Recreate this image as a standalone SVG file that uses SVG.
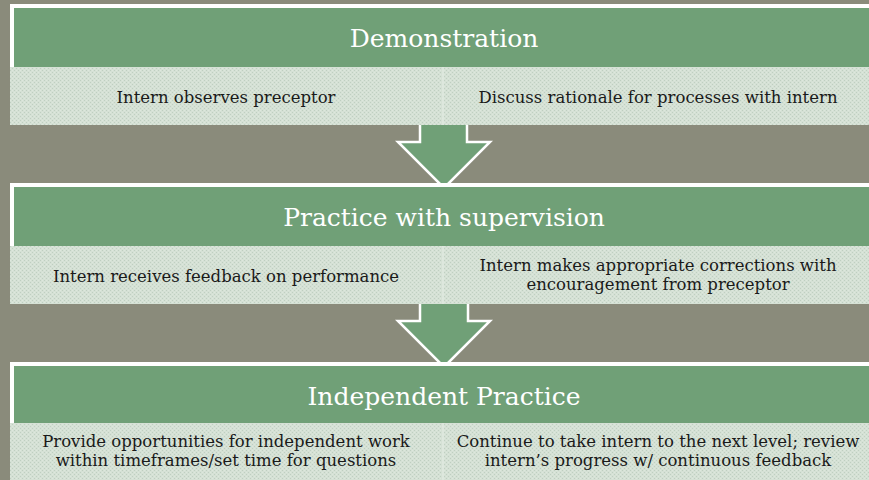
<svg xmlns="http://www.w3.org/2000/svg" width="869" height="480" viewBox="0 0 869 480">
  <defs>
    <!-- fine dotted weave used on the detail bands -->
    <pattern id="weave" width="4" height="4" patternUnits="userSpaceOnUse">
      <rect width="4" height="4" fill="#d5e1d5"/>
      <rect x="0" y="0" width="1" height="1" fill="#bfcfc1"/>
      <rect x="2" y="2" width="1" height="1" fill="#bfcfc1"/>
      <rect x="2" y="0" width="1" height="1" fill="#dde7dd"/>
      <rect x="0" y="2" width="1" height="1" fill="#dde7dd"/>
    </pattern>
  </defs>
  <style>
    .frame { fill: #ffffff; }
    .head { fill: #70a077; }
    .band { fill: url(#weave); }
    .seam { fill: #dde7dd; }
    .title { font-family: "DejaVu Serif", "Liberation Serif", serif; font-size: 25px; fill: #ffffff; text-anchor: middle; }
    .item { font-family: "DejaVu Serif", "Liberation Serif", serif; font-size: 16.5px; fill: #1a1a1a; text-anchor: middle; }
    .flow { fill: #70a077; stroke: #ffffff; stroke-width: 2.5; stroke-linejoin: miter; }
  </style>

  <rect width="869" height="480" fill="#8a8b7b"/>

  <!-- down arrows between stages -->
  <g id="connectors">
    <polygon class="flow" points="420,118 467,118 467,142 490,142 444,188 398,142 420,142"/>
    <polygon class="flow" points="420,297 468,297 468,321 490,321 444,367 398,321 420,321"/>
  </g>

  <g id="demonstration">
    <rect class="frame" x="10" y="4" width="870" height="64"/>
    <rect class="head" x="14" y="8" width="870" height="60"/>
    <text class="title" x="444" y="47">Demonstration</text>
    <rect class="band" x="10" y="67" width="870" height="58"/>
    <rect class="seam" x="442" y="67" width="2" height="58"/>
    <text class="item" x="226" y="103">Intern observes preceptor</text>
    <text class="item" x="658" y="103">Discuss rationale for processes with intern</text>
  </g>

  <g id="practice-with-supervision">
    <rect class="frame" x="10" y="183" width="870" height="64"/>
    <rect class="head" x="14" y="187" width="870" height="60"/>
    <text class="title" x="444" y="226">Practice with supervision</text>
    <rect class="band" x="10" y="246" width="870" height="58"/>
    <rect class="seam" x="442" y="246" width="2" height="58"/>
    <text class="item" x="226" y="282">Intern receives feedback on performance</text>
    <text class="item" x="658" y="271">Intern makes appropriate corrections with</text>
    <text class="item" x="658" y="290">encouragement from preceptor</text>
  </g>

  <g id="independent-practice">
    <rect class="frame" x="10" y="362" width="870" height="64"/>
    <rect class="head" x="14" y="366" width="870" height="58"/>
    <text class="title" x="444" y="405">Independent Practice</text>
    <rect class="band" x="10" y="423" width="870" height="60"/>
    <rect class="seam" x="442" y="423" width="2" height="60"/>
    <text class="item" x="226" y="447">Provide opportunities for independent work</text>
    <text class="item" x="226" y="466">within timeframes/set time for questions</text>
    <text class="item" x="658" y="447">Continue to take intern to the next level; review</text>
    <text class="item" x="658" y="466">intern’s progress w/ continuous feedback</text>
  </g>
</svg>
